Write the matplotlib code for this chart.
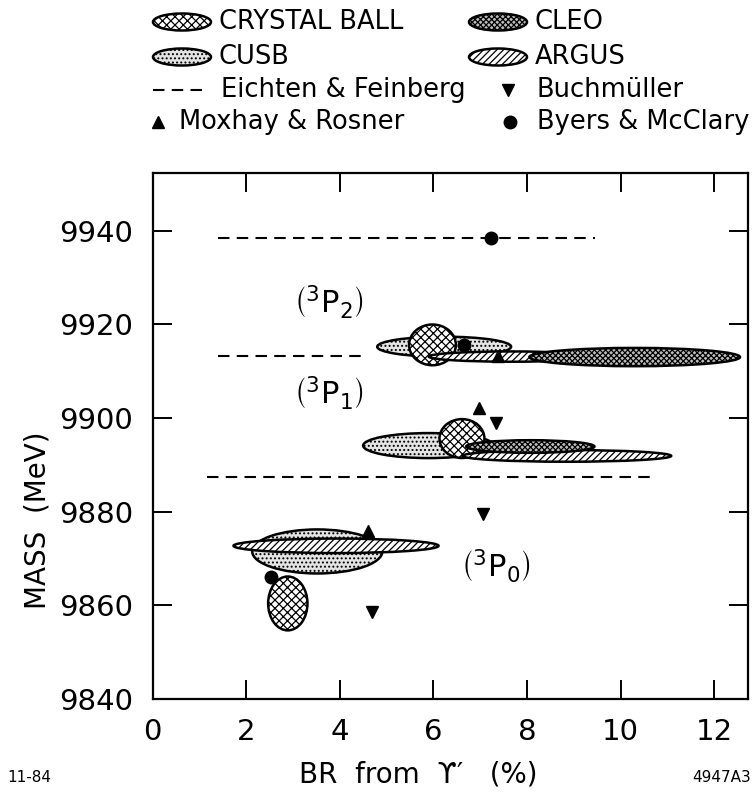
import matplotlib
matplotlib.use("Agg")
import matplotlib.pyplot as plt
from matplotlib.patches import Ellipse

plt.rcParams['font.family'] = ['DejaVu Sans']
plt.rcParams['mathtext.fontset'] = 'dejavusans'
plt.rcParams['hatch.linewidth'] = 0.9

# chi_b states: 3P0, 3P1, 3P2 -- ellipse centres (BR %, mass MeV) and half-widths
cb_br = [2.89, 6.61, 5.98]
cb_br_err = [0.42, 0.48, 0.50]
cb_mass = [9860.4, 9895.6, 9915.6]
cb_mass_err = [5.75, 4.15, 4.35]

cusb_br = [3.52, 5.90, 6.23]
cusb_br_err = [1.39, 1.40, 1.43]
cusb_mass = [9871.5, 9894.1, 9915.2]
cusb_mass_err = [4.70, 2.67, 2.15]

argus_br = [3.92, 8.85, 7.65]
argus_br_err = [2.19, 2.23, 1.75]
argus_mass = [9872.7, 9891.9, 9913.1]
argus_mass_err = [1.55, 1.25, 1.10]

cleo_br = [8.07, 10.30]
cleo_br_err = [1.37, 2.25]
cleo_mass = [9893.9, 9913.0]
cleo_mass_err = [1.35, 1.95]

# theory predictions
ef_mass = [9887.5, 9913.2, 9938.4]
ef_br_lo = [1.17, 1.39, 1.39]
ef_br_hi = [10.76, 4.56, 9.45]

bu_br = [4.69, 7.05, 7.34]
bu_mass = [9858.6, 9879.6, 9898.9]

mr_br = [4.61, 6.98, 7.37]
mr_mass = [9875.9, 9902.1, 9913.2]

bm_br = [2.54, 6.66, 7.23]
bm_mass = [9866.1, 9915.6, 9938.4]

state_labels = [r"$\left(^{3}\mathrm{P}_{0}\right)$",
                r"$\left(^{3}\mathrm{P}_{1}\right)$",
                r"$\left(^{3}\mathrm{P}_{2}\right)$"]
state_label_br = [7.34, 3.77, 3.77]
state_label_mass = [9868.3, 9905.3, 9924.8]

x_ticks = [0, 2, 4, 6, 8, 10, 12]
y_ticks = [9840, 9860, 9880, 9900, 9920, 9940]

styles = {
    'CUSB': dict(facecolor='#e4e4e4', hatch='....', zorder=2),
    'CRYSTAL BALL': dict(facecolor='white', hatch='xxxx', zorder=3),
    'ARGUS': dict(facecolor='white', hatch='/////', zorder=4),
    'CLEO': dict(facecolor='#bdbdbd', hatch='xxxxxx', zorder=5),
}

W, H = 753, 792
fig = plt.figure(figsize=(W / 100, H / 100), dpi=100)
ax = fig.add_axes([152.5 / W, 1 - 699 / H, 595.5 / W, 526.5 / H])


def draw_ellipses(name, xs, xerr, ys, yerr):
    st = styles[name]
    for x, dx, y, dy in zip(xs, xerr, ys, yerr):
        ax.add_patch(Ellipse((x, y), 2 * dx, 2 * dy, facecolor=st['facecolor'],
                             edgecolor='black', hatch=st['hatch'], lw=1.8,
                             zorder=st['zorder']))


draw_ellipses('CUSB', cusb_br, cusb_br_err, cusb_mass, cusb_mass_err)
draw_ellipses('CRYSTAL BALL', cb_br, cb_br_err, cb_mass, cb_mass_err)
draw_ellipses('ARGUS', argus_br, argus_br_err, argus_mass, argus_mass_err)
draw_ellipses('CLEO', cleo_br, cleo_br_err, cleo_mass, cleo_mass_err)

for lo, hi, m in zip(ef_br_lo, ef_br_hi, ef_mass):
    ax.plot([lo, hi], [m, m], color='black', lw=1.5, dashes=(5.5, 3.5), zorder=1)

ax.plot(bu_br, bu_mass, 'v', color='black', ms=9, zorder=6)
ax.plot(mr_br, mr_mass, '^', color='black', ms=9, zorder=6)
ax.plot(bm_br, bm_mass, 'o', color='black', ms=9, zorder=6)

for lab, x, y in zip(state_labels, state_label_br, state_label_mass):
    ax.text(x, y, lab, fontsize=22, ha='center', va='center')

ax.set_xlim(0, 12.72)
ax.set_ylim(9840, 9952.4)
ax.set_xticks(x_ticks)
ax.set_yticks(y_ticks)
ax.tick_params(direction='in', length=14, width=1.4, labelsize=21,
               top=True, right=True, pad=14)
for sp in ax.spines.values():
    sp.set_linewidth(1.6)

ax.set_ylabel('MASS  (MeV)', fontsize=20)
ax.yaxis.set_label_coords(-0.17, 0.34)

# overlay in pixel coordinates for the key and captions
ov = fig.add_axes([0, 0, 1, 1])
ov.set_xlim(0, W)
ov.set_ylim(H, 0)
ov.axis('off')

key_rows = [22, 57, 90, 122]
key_fs = 18.5
for name, cx, cy in [('CRYSTAL BALL', 182, key_rows[0]), ('CLEO', 498, key_rows[0]),
                     ('CUSB', 182, key_rows[1]), ('ARGUS', 498, key_rows[1])]:
    st = styles[name]
    ov.add_patch(Ellipse((cx, cy), 58, 17, facecolor=st['facecolor'], edgecolor='black',
                         hatch=st['hatch'], lw=1.8))
    ov.text(cx + 37, cy, name, fontsize=key_fs, va='center', ha='left')

ov.plot([153, 208], [key_rows[2], key_rows[2]], color='black', lw=1.5, dashes=(5.5, 3.5))
ov.text(221, key_rows[2], 'Eichten & Feinberg', fontsize=key_fs, va='center')
ov.plot([508], [key_rows[2]], 'v', color='black', ms=9)
ov.text(537, key_rows[2], 'Buchmüller', fontsize=key_fs, va='center')
ov.plot([158], [key_rows[3]], '^', color='black', ms=9)
ov.text(179, key_rows[3], 'Moxhay & Rosner', fontsize=key_fs, va='center')
ov.plot([510], [key_rows[3]], 'o', color='black', ms=9)
ov.text(537, key_rows[3], 'Byers & McClary', fontsize=key_fs, va='center')

ov.text(418, 775, 'BR  from  ϒ′   (%)', fontsize=20, ha='center', va='center')
ov.text(7, 778, '11-84', fontsize=11, ha='left', va='center')
ov.text(751, 778, '4947A3', fontsize=11, ha='right', va='center')

fig.savefig('out.png', dpi=100)
